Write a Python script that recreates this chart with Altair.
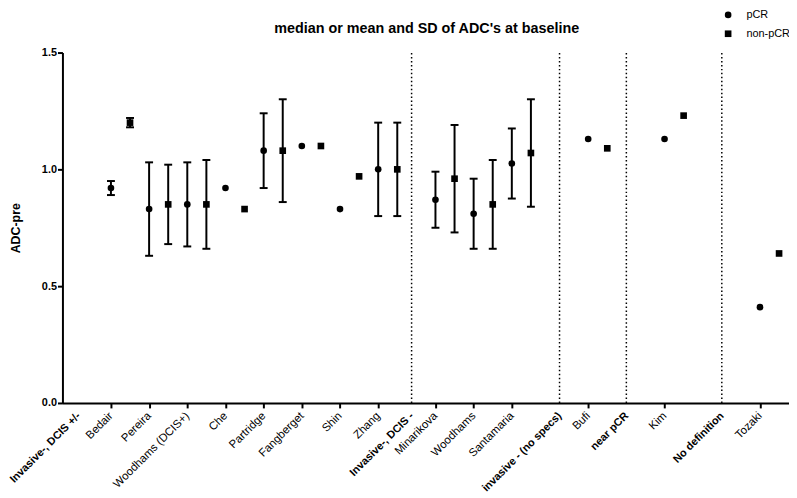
import altair as alt
import pandas as pd

title_text = "median or mean and SD of ADC's at baseline"

group_labels = ["Invasive-, DCIS +/-", "Invasive-, DCIS -", "invasive - (no specs)", "near pCR", "No definition"]
group_slots = [0.3, 17.75, 25.5, 29, 34]

studies = ["Bedair", "Pereira", "Woodhams (DCIS+)", "Che", "Partridge", "Fangberget", "Shin", "Zhang",
           "Minarikova", "Woodhams", "Santamaria", "Bufi", "Kim", "Tozaki"]
study_slots = [2, 4, 6, 8, 10, 12, 14, 16, 19, 21, 23, 27, 31, 36]

pcr_value = [0.92, 0.83, 0.85, 0.92, 1.08, 1.10, 0.83, 1.00, 0.87, 0.81, 1.025, 1.13, 1.13, 0.41]
pcr_sd = [0.03, 0.20, 0.18, None, 0.16, None, None, 0.20, 0.12, 0.15, 0.15, None, None, None]
non_value = [1.20, 0.85, 0.85, 0.83, 1.08, 1.10, 0.97, 1.00, 0.96, 0.85, 1.07, 1.09, 1.23, 0.64]
non_sd = [0.02, 0.17, 0.19, None, 0.22, None, None, 0.20, 0.23, 0.19, 0.23, None, None, None]

y_ticks = [0, 0.5, 1.0, 1.5]

rows = []
for i, s in enumerate(studies):
    rows.append(dict(study=s, response="pCR", slot=study_slots[i], value=pcr_value[i], sd=pcr_sd[i]))
    rows.append(dict(study=s, response="non-pCR", slot=study_slots[i] + 1, value=non_value[i], sd=non_sd[i]))
df = pd.DataFrame(rows)
err = df.dropna(subset=["sd"]).copy()
err["lo"] = err["value"] - err["sd"]
err["hi"] = err["value"] + err["sd"]

sep_df = pd.DataFrame({"slot": group_slots[1:], "lo": [0] * 4, "hi": [1.5] * 4})

tick_vals = sorted(group_slots + study_slots)
label_map_vals = group_slots + study_slots
label_map_txt = group_labels + studies
js_vals = "[" + ",".join(str(v) for v in label_map_vals) + "]"
js_txt = "[" + ",".join("'" + t.replace("'", "\\'") + "'" for t in label_map_txt) + "]"
label_expr = f"{js_txt}[indexof({js_vals}, datum.value)]"
is_group = "indexof([" + ",".join(str(v) for v in group_slots) + "], datum.value) >= 0"

FONT = "Liberation Sans"

xscale = alt.Scale(domain=[-0.54, 37.52], nice=False, zero=False)
yscale = alt.Scale(domain=[0, 1.5], nice=False, zero=True)

xaxis = alt.Axis(
    title=None, values=tick_vals, labelExpr=label_expr, labelAngle=-45, labelAlign="right",
    labelBaseline="middle", labelFont=FONT, labelColor="black",
    labelFontSize={"condition": {"test": is_group, "value": 11}, "value": 11.5},
    labelFontWeight={"condition": {"test": is_group, "value": "bold"}, "value": "normal"},
    tickOpacity={"condition": {"test": is_group, "value": 0}, "value": 1},
    labelPadding=6, labelOverlap=False, labelFlush=False, labelBound=False,
    domainColor="black", domainWidth=2, tickColor="black", tickWidth=2, tickSize=5, grid=False,
)
yaxis = alt.Axis(
    title="ADC-pre", values=y_ticks, format=".1f", labelFontWeight="bold", labelFontSize=11,
    labelFont=FONT, labelColor="black", labelPadding=1,
    domainColor="black", domainWidth=2, tickColor="black", tickWidth=2, tickSize=5, grid=False,
    titleFont=FONT, titleFontSize=12.5, titleFontWeight="bold", titleColor="black",
    titleAngle=-90, titleX=-47, titleY=177, titleAlign="center", titleBaseline="middle",
)

def X(field):
    return alt.X(field, type="quantitative", scale=xscale, axis=xaxis)

def Y(field):
    return alt.Y(field, type="quantitative", scale=yscale, axis=yaxis)

seps = alt.Chart(sep_df).mark_rule(strokeDash=[1.5, 2.5], strokeWidth=1.5, color="black").encode(
    x=X("slot"), y=Y("lo"), y2="hi"
)

bars = alt.Chart(err).mark_rule(strokeWidth=2, color="black").encode(
    x=X("slot"), y=Y("lo"), y2="hi"
)
cap_lo = alt.Chart(err).mark_tick(orient="horizontal", size=8, thickness=2, color="black", opacity=1).encode(
    x=X("slot"), y=Y("lo")
)
cap_hi = alt.Chart(err).mark_tick(orient="horizontal", size=8, thickness=2, color="black", opacity=1).encode(
    x=X("slot"), y=Y("hi")
)

points = alt.Chart(df).mark_point(filled=True, size=45, color="black", opacity=1).encode(
    x=X("slot"), y=Y("value"),
    shape=alt.Shape(
        "response:N",
        scale=alt.Scale(domain=["pCR", "non-pCR"], range=["circle", "square"]),
        legend=alt.Legend(
            title=None, orient="none", legendX=667, legendY=-43.5, labelFont=FONT, labelFontSize=11,
            labelColor="black", symbolSize=45, symbolFillColor="black", symbolStrokeColor="black",
            rowPadding=6, labelOffset=13, padding=0,
        ),
    ),
)

title = alt.Chart(pd.DataFrame({"t": [title_text]})).mark_text(
    font=FONT, fontSize=14.5, fontWeight="bold", color="black", align="center", baseline="middle"
).encode(text="t:N", x=alt.value(368), y=alt.value(-24))

chart = alt.layer(seps, bars, cap_lo, cap_hi, points, title).properties(
    width=734, height=354, autosize="none",
    padding={"left": 55, "top": 42.5, "right": 0, "bottom": 93.5},
).configure_view(stroke=None)

chart.save("out.html", embed_options={"renderer": "svg", "actions": False})
